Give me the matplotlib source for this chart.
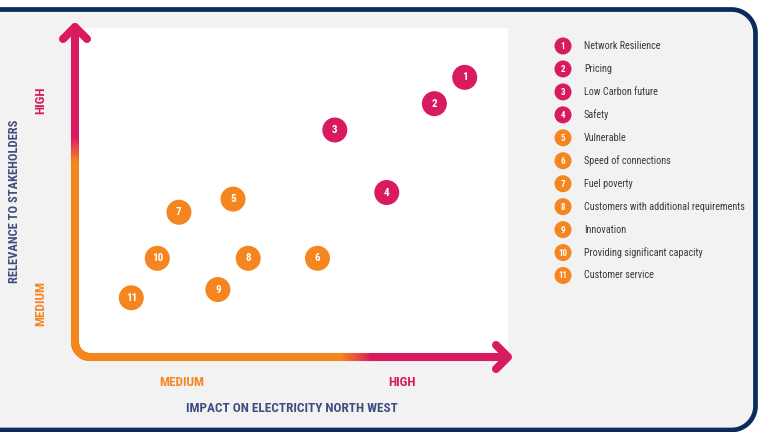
import numpy as np
import matplotlib
matplotlib.use('Agg')
import matplotlib.pyplot as plt
from matplotlib import font_manager
from matplotlib.collections import LineCollection
from matplotlib.patches import Rectangle
from matplotlib.colors import to_rgb

# pick a condensed face that is installed
installed = {f.name for f in font_manager.fontManager.ttflist}
narrow = next(n for n in ['Roboto Condensed', 'Archivo Narrow', 'Sofia Sans Condensed',
                          'Asap Condensed', 'DejaVu Sans'] if n in installed)
plt.rcParams['font.family'] = [narrow, 'DejaVu Sans']

# Materiality matrix: impact on the business vs relevance to stakeholders
ids = ['1', '2', '3', '4', '5', '6', '7', '8', '9', '10', '11']
topics = ['Network Resilience', 'Pricing', 'Low Carbon future', 'Safety', 'Vulnerable',
          'Speed of connections', 'Fuel poverty', 'Customers with additional requirements',
          'Innovation', 'Providing significant capacity', 'Customer service']
impact = [9.0, 8.3, 6.0, 7.2, 3.65, 5.6, 2.4, 4.0, 3.3, 1.9, 1.3]
relevance = [8.5, 7.7, 6.9, 5.0, 4.8, 3.0, 4.4, 3.0, 2.05, 3.0, 1.8]
level = ['high', 'high', 'high', 'high', 'medium', 'medium', 'medium',
         'medium', 'medium', 'medium', 'medium']

PINK = '#d81b60'
ORANGE = '#f5861f'
NAVY = '#0b2a5e'
TITLE = '#3f4d7e'
level_col = {'high': PINK, 'medium': ORANGE}

W, H = 758, 432
fig = plt.figure(figsize=(W / 100, H / 100), dpi=100)
fig.patch.set_facecolor('white')

# full-figure axes in pixel units for the frame, arrows and legend
bg = fig.add_axes([0, 0, 1, 1])
bg.set_xlim(0, W)
bg.set_ylim(H, 0)
bg.axis('off')

# panel: open on the left, rounded corners on the right
rc, top, bot, right = 24, 9.5, 430, 755.5
a = np.linspace(0, np.pi / 2, 40)
frame = np.vstack([
    [[-20, top]],
    np.column_stack([right - rc + rc * np.sin(a), top + rc - rc * np.cos(a)]),
    np.column_stack([right - rc + rc * np.cos(a), bot - rc + rc * np.sin(a)]),
    [[-20, bot]],
])
bg.fill(frame[:, 0], frame[:, 1], color='#f2f2f2', zorder=0)
bg.plot(frame[:, 0], frame[:, 1], color=NAVY, lw=3.4, solid_joinstyle='round', zorder=0.5)
bg.add_patch(Rectangle((75, 28), 433, 329, facecolor='white', edgecolor='none', zorder=1))

# L-shaped axis with orange -> pink gradient
x0, yb, r = 75, 357, 15
vy = np.linspace(27, yb - r, 300)
vert = np.column_stack([np.full_like(vy, x0), vy])
t = np.linspace(0, np.pi / 2, 30)
arc = np.column_stack([x0 + r - r * np.cos(t), yb - r + r * np.sin(t)])
hx = np.linspace(x0 + r, 507, 400)
horiz = np.column_stack([hx, np.full_like(hx, yb)])
pts = np.vstack([vert, arc, horiz])


def pink_frac(p):
    if p[1] < yb - r:
        return np.clip((165 - p[1]) / 25, 0, 1)
    return np.clip((p[0] - 345) / 30, 0, 1)


cp, co = np.array(to_rgb(PINK)), np.array(to_rgb(ORANGE))
segs = np.stack([pts[:-1], pts[1:]], axis=1)
cols = [co + (cp - co) * pink_frac((p + q) / 2) for p, q in zip(pts[:-1], pts[1:])]
bg.add_collection(LineCollection(segs, colors=cols, linewidths=5.8, capstyle='round', zorder=2))
bg.plot([63, 75, 87], [39, 27, 39], color=PINK, lw=5.8, solid_capstyle='round',
        solid_joinstyle='round', zorder=3)
bg.plot([496, 508, 496], [345, 357, 369], color=PINK, lw=5.8, solid_capstyle='round',
        solid_joinstyle='round', zorder=3)

# axis titles and level labels
bg.text(15, 201, 'RELEVANCE TO STAKEHOLDERS', rotation=90, ha='center', va='center',
        fontsize=9, fontweight='bold', color=TITLE)
bg.text(41, 100, 'HIGH', rotation=90, ha='center', va='center',
        fontsize=9.5, fontweight='bold', color=PINK)
bg.text(41, 303, 'MEDIUM', rotation=90, ha='center', va='center',
        fontsize=9.5, fontweight='bold', color=ORANGE)
bg.text(182, 383, 'MEDIUM', ha='center', va='center', fontsize=9.5, fontweight='bold', color=ORANGE)
bg.text(402, 383, 'HIGH', ha='center', va='center', fontsize=9.5, fontweight='bold', color=PINK)
bg.text(292, 408, 'IMPACT ON ELECTRICITY NORTH WEST', ha='center', va='center',
        fontsize=9.5, fontweight='bold', color=TITLE)

# legend
ly = 46 + 22.95 * np.arange(len(ids))
bg.scatter(np.full(len(ids), 563), ly, s=150, c=[level_col[l] for l in level],
           edgecolors='none', zorder=4)
for y, num, name in zip(ly, ids, topics):
    bg.text(563, y + 0.5, num, ha='center', va='center', fontsize=6.5, fontweight='bold',
            color='white', zorder=5)
    bg.text(584, y, name, ha='left', va='center', fontsize=7.3, color='#3a3a3a')

# scatter of topics
ax = fig.add_axes([75 / W, (H - 357) / H, 433 / W, 329 / H])
ax.set_xlim(0, 10)
ax.set_ylim(0, 10)
ax.patch.set_alpha(0)
ax.axis('off')
ax.scatter(impact, relevance, s=324, c=[level_col[l] for l in level], edgecolors='none',
           zorder=3, clip_on=False)
for x, y, num in zip(impact, relevance, ids):
    ax.text(x, y, num, ha='center', va='center', fontsize=8, fontweight='bold',
            color='white', zorder=4)

fig.savefig('out.png', dpi=100, facecolor=fig.get_facecolor())
